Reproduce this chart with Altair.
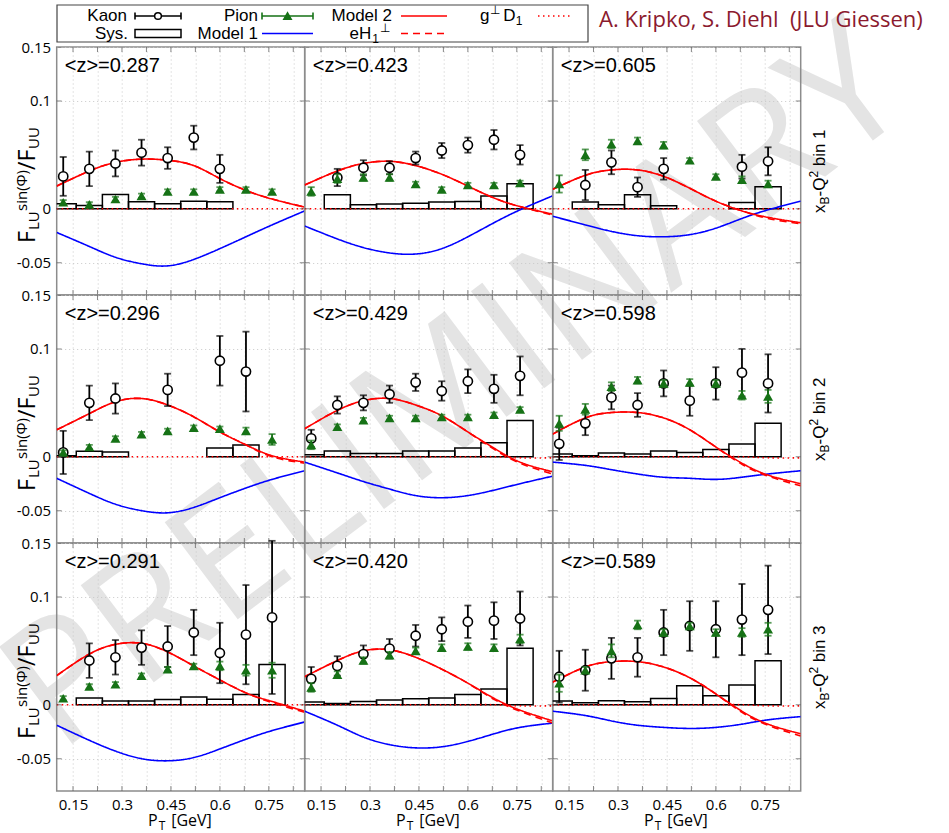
import altair as alt
import pandas as pd

# ------------------------------------------------------------------ data
PT = [0.12, 0.20, 0.28, 0.36, 0.44, 0.52, 0.60, 0.68, 0.76]
BIN_LO = [0.08, 0.16, 0.24, 0.32, 0.40, 0.48, 0.56, 0.64, 0.72]
BIN_HI = [0.16, 0.24, 0.32, 0.40, 0.48, 0.56, 0.64, 0.72, 0.80]
CURVE_PT = [0.10, 0.20, 0.28, 0.36, 0.44, 0.52, 0.60, 0.68, 0.76, 0.86]

Z_MEAN = ["0.287", "0.423", "0.605", "0.296", "0.429", "0.598", "0.291", "0.420", "0.589"]
ROW_BINS = ["1", "2", "3"]

X_TICKS = [0.15, 0.225, 0.3, 0.375, 0.45, 0.525, 0.6, 0.675, 0.75, 0.825]
X_LABELS = [0.15, 0.3, 0.45, 0.6, 0.75]
Y_TICKS = [0.15, 0.1, 0, -0.05]

N = None
KAON = [
    [0.030, 0.037, 0.042, 0.052, 0.047, 0.066, 0.037, N, N],
    [N, 0.029, 0.038, 0.038, 0.047, 0.054, 0.059, 0.064, 0.050],
    [N, 0.022, 0.043, 0.020, 0.037, N, N, 0.039, 0.044],
    [0.004, 0.050, 0.054, N, 0.062, N, 0.089, 0.079, N],
    [0.017, 0.048, 0.050, 0.058, 0.069, 0.061, 0.070, 0.063, 0.075],
    [0.012, 0.031, 0.055, 0.048, 0.068, 0.052, 0.068, 0.078, 0.068],
    [N, 0.041, 0.044, 0.053, 0.054, 0.067, 0.048, 0.065, 0.081],
    [0.024, 0.036, 0.047, 0.052, 0.064, 0.070, 0.077, 0.078, 0.080],
    [0.026, 0.032, 0.043, 0.044, 0.067, 0.073, 0.070, 0.079, 0.088],
]
KAON_ERR = [
    [0.018, 0.016, 0.012, 0.012, 0.010, 0.011, 0.013, N, N],
    [N, 0.008, 0.007, 0.006, 0.006, 0.007, 0.007, 0.009, 0.009],
    [N, 0.014, 0.011, 0.009, 0.010, N, N, 0.011, 0.013],
    [0.020, 0.016, 0.014, N, 0.015, N, 0.023, 0.037, N],
    [0.008, 0.008, 0.007, 0.008, 0.008, 0.009, 0.011, 0.013, 0.018],
    [0.015, 0.011, 0.011, 0.011, 0.012, 0.014, 0.015, 0.022, 0.027],
    [N, 0.016, 0.016, 0.016, 0.019, 0.021, 0.028, 0.046, 0.071],
    [0.011, 0.009, 0.008, 0.009, 0.010, 0.011, 0.015, 0.017, 0.025],
    [0.024, 0.019, 0.019, 0.018, 0.021, 0.023, 0.026, 0.033, 0.041],
]
PION = [
    [0.006, 0.004, 0.009, 0.012, 0.016, 0.016, 0.018, 0.018, 0.016],
    [0.016, 0.028, 0.029, 0.029, 0.023, 0.018, 0.022, 0.022, 0.024],
    [0.023, 0.050, 0.060, 0.063, 0.059, 0.045, 0.030, 0.027, 0.023],
    [0.004, 0.009, 0.017, 0.021, 0.024, 0.027, 0.026, 0.024, 0.016],
    [0.011, 0.028, 0.034, 0.036, 0.036, 0.037, 0.037, 0.039, 0.044],
    [0.031, 0.044, 0.065, 0.071, 0.068, 0.069, 0.068, 0.057, 0.056],
    [0.006, 0.017, 0.019, 0.027, 0.033, 0.036, 0.036, 0.032, 0.032],
    [0.016, 0.028, 0.041, 0.046, 0.050, 0.053, 0.054, 0.053, 0.061],
    [0.020, 0.032, 0.050, 0.074, 0.067, 0.073, 0.067, 0.067, 0.070],
]
PION_ERR = [
    [0.002, 0.002, 0.002, 0.002, 0.002, 0.002, 0.002, 0.002, 0.002],
    [0.004, 0.004, 0.003, 0.003, 0.002, 0.002, 0.002, 0.002, 0.002],
    [0.008, 0.005, 0.004, 0.003, 0.003, 0.002, 0.002, 0.003, 0.003],
    [0.002, 0.002, 0.002, 0.002, 0.002, 0.002, 0.002, 0.003, 0.005],
    [0.004, 0.002, 0.002, 0.002, 0.002, 0.002, 0.002, 0.002, 0.002],
    [0.007, 0.005, 0.004, 0.003, 0.003, 0.003, 0.003, 0.004, 0.006],
    [0.002, 0.002, 0.002, 0.002, 0.002, 0.002, 0.004, 0.005, 0.007],
    [0.004, 0.003, 0.003, 0.003, 0.003, 0.003, 0.003, 0.003, 0.004],
    [0.008, 0.003, 0.006, 0.004, 0.003, 0.003, 0.003, 0.004, 0.006],
]
SYS = [
    [0.0046, 0.0030, 0.0132, 0.0065, 0.0046, 0.0070, 0.0065, N, N],
    [N, 0.0130, 0.0037, 0.0043, 0.0052, 0.0062, 0.0068, 0.0117, 0.0231],
    [N, 0.0062, 0.0037, 0.0130, 0.0028, N, N, 0.0058, 0.0204],
    [0.0010, 0.0050, 0.0043, N, N, N, 0.0081, 0.0109, N],
    [0.0019, 0.0053, 0.0031, 0.0031, 0.0053, 0.0053, 0.0081, 0.0130, 0.0335],
    [0.0025, 0.0009, 0.0034, 0.0025, 0.0053, 0.0040, 0.0068, 0.0118, 0.0310],
    [N, 0.0062, 0.0034, 0.0034, 0.0049, 0.0071, 0.0052, 0.0096, 0.0373],
    [0.0025, 0.0012, 0.0031, 0.0043, 0.0056, 0.0062, 0.0096, 0.0145, 0.0525],
    [0.0034, 0.0019, 0.0037, 0.0028, 0.0059, 0.0176, 0.0083, 0.0182, 0.0407],
]
MODEL1 = [
    [-0.022, -0.035, -0.045, -0.051, -0.053, -0.047, -0.037, -0.026, -0.015, -0.002],
    [-0.016, -0.028, -0.036, -0.041, -0.042, -0.037, -0.026, -0.013, -0.001, 0.012],
    [-0.007, -0.015, -0.021, -0.025, -0.026, -0.024, -0.018, -0.009, -0.001, 0.007],
    [-0.020, -0.034, -0.044, -0.050, -0.052, -0.047, -0.038, -0.029, -0.021, -0.013],
    [-0.005, -0.015, -0.023, -0.030, -0.036, -0.038, -0.036, -0.031, -0.025, -0.018],
    [-0.005, -0.008, -0.012, -0.016, -0.019, -0.020, -0.021, -0.019, -0.016, -0.013],
    [-0.019, -0.033, -0.043, -0.050, -0.052, -0.049, -0.041, -0.032, -0.024, -0.016],
    [-0.006, -0.019, -0.030, -0.037, -0.040, -0.039, -0.034, -0.027, -0.021, -0.017],
    [-0.006, -0.010, -0.015, -0.019, -0.021, -0.022, -0.021, -0.018, -0.014, -0.011],
]
MODEL2 = [
    [0.021, 0.035, 0.043, 0.046, 0.045, 0.040, 0.028, 0.017, 0.009, 0.0015],
    [0.022, 0.035, 0.042, 0.044, 0.040, 0.032, 0.021, 0.010, 0.002, -0.005],
    [0.018, 0.031, 0.036, 0.036, 0.030, 0.019, 0.007, -0.002, -0.008, -0.013],
    [0.025, 0.040, 0.051, 0.054, 0.048, 0.037, 0.023, 0.011, 0.001, -0.005],
    [0.026, 0.043, 0.052, 0.054, 0.048, 0.038, 0.023, 0.008, -0.005, -0.014],
    [0.021, 0.036, 0.041, 0.041, 0.036, 0.025, 0.009, -0.006, -0.017, -0.025],
    [0.027, 0.047, 0.056, 0.057, 0.049, 0.036, 0.023, 0.011, 0.003, -0.006],
    [0.026, 0.041, 0.050, 0.051, 0.044, 0.033, 0.020, 0.006, -0.005, -0.015],
    [0.021, 0.035, 0.040, 0.040, 0.035, 0.025, 0.010, -0.006, -0.018, -0.027],
]
EH1 = [
    [0.021, 0.035, 0.043, 0.046, 0.045, 0.040, 0.028, 0.017, 0.009, 0.0015],
    [0.022, 0.035, 0.042, 0.044, 0.040, 0.032, 0.021, 0.010, 0.002, -0.006],
    [0.018, 0.031, 0.036, 0.036, 0.030, 0.019, 0.007, -0.002, -0.009, -0.014],
    [0.025, 0.040, 0.051, 0.054, 0.048, 0.037, 0.023, 0.011, 0.000, -0.006],
    [0.026, 0.043, 0.052, 0.054, 0.048, 0.038, 0.023, 0.007, -0.006, -0.016],
    [0.021, 0.036, 0.041, 0.041, 0.036, 0.025, 0.009, -0.007, -0.018, -0.027],
    [0.027, 0.047, 0.056, 0.057, 0.049, 0.036, 0.023, 0.011, 0.002, -0.007],
    [0.026, 0.041, 0.050, 0.051, 0.044, 0.033, 0.020, 0.005, -0.006, -0.017],
    [0.021, 0.035, 0.040, 0.040, 0.035, 0.025, 0.010, -0.007, -0.019, -0.029],
]
GD1 = [
    [0.0, 0.0, 0.0, 0.0, 0.0, 0.0, 0.0, 0.0, 0.0, 0.0],
    [0.0, 0.0, 0.0, 0.0, 0.0, 0.0, 0.0, 0.0, 0.0, 0.0],
    [0.0, 0.0, 0.0, 0.0, 0.0, 0.0, 0.0, 0.0, 0.0, 0.0],
    [0.0, 0.0, 0.0, 0.0, 0.0, 0.0, 0.0, 0.0, 0.0, 0.0],
    [0.0, 0.0, 0.0, 0.0, 0.0, 0.0, 0.0, 0.0, -0.001, -0.001],
    [0.0, 0.0, 0.0, 0.0, 0.0, 0.0, 0.0, 0.0, -0.001, -0.001],
    [0.0, 0.0, 0.0, 0.0, 0.0, 0.0, 0.0, 0.0, 0.0, 0.0],
    [0.0, 0.0, 0.0, 0.0, 0.0, 0.0, 0.0, 0.0, -0.001, -0.001],
    [0.0, 0.0, 0.0, 0.0, 0.0, 0.0, 0.0, 0.0, -0.001, -0.001],
]

# ------------------------------------------------------------------ style
SANS = "Liberation Sans"
OPEN = "Open Sans"
RED, BLUE, GREEN = "#ff0000", "#0000ff", "#167216"
W = H = 248
OX, OY = 56.7, 47.0          # page position of the first panel's top-left corner
PAGE_W, PAGE_H = 949, 833
XS = alt.Scale(domain=[0.1, 0.86], nice=False, zero=False)
YS = alt.Scale(domain=[-0.08, 0.15], nice=False, zero=False)
ONE = pd.DataFrame({"k": [0]})

LABEL_X = ("indexof([" + ",".join(str(v) for v in X_LABELS) +
           "], datum.value) >= 0 ? format(datum.value, '~g') : ''")
LABEL_Y = "datum.value < 0 ? '-' + format(-datum.value, '~g') : format(datum.value, '~g')"


def txt(s, x, y, size, font=SANS, color="black", align="left", baseline="middle",
        angle=0, weight="normal"):
    return alt.Chart(ONE).mark_text(
        text=s, fontSize=size, font=font, color=color, align=align,
        baseline=baseline, angle=angle, fontWeight=weight
    ).encode(x=alt.value(x), y=alt.value(y))


def seg(x1, y1, x2, y2, color, width=1.6, dash=(1, 0)):
    return alt.Chart(ONE).mark_rule(color=color, strokeWidth=width, strokeDash=list(dash)).encode(
        x=alt.value(x1), y=alt.value(y1), x2=alt.value(x2), y2=alt.value(y2))


def dot(x, y, shape, fill, stroke, size):
    return alt.Chart(ONE).mark_point(shape=shape, filled=True, fill=fill, stroke=stroke,
                                     strokeWidth=1.5, size=size, opacity=1).encode(
        x=alt.value(x), y=alt.value(y))


def watermark():
    return [txt("PRELIMINARY", 457 - OX, 390 - OY, 170, font=OPEN, color="#e4e4e4",
                align="center", angle=323)]


def legend():
    L = []
    L.append(alt.Chart(ONE).mark_rect(fill="white", stroke="#444444", strokeWidth=1.2).encode(
        x=alt.value(0.3), x2=alt.value(531.3), y=alt.value(-42), y2=alt.value(-5)))
    r1, r2 = -31, -13.5
    # Kaon
    L.append(txt("Kaon", 70.3, r1, 17, align="right"))
    L.append(seg(78.3, r1, 124.3, r1, "black"))
    L.append(seg(78.3, r1 - 3.5, 78.3, r1 + 3.5, "black"))
    L.append(seg(124.3, r1 - 3.5, 124.3, r1 + 3.5, "black"))
    L.append(dot(101.3, r1, "circle", "white", "black", 45))
    # Sys.
    L.append(txt("Sys.", 71.3, r2, 17, align="right"))
    L.append(alt.Chart(ONE).mark_rect(fillOpacity=0, stroke="black", strokeWidth=1.5).encode(
        x=alt.value(78.3), x2=alt.value(124.3), y=alt.value(r2 - 4), y2=alt.value(r2 + 4)))
    # Pion
    L.append(txt("Pion", 201.3, r1, 17, align="right"))
    L.append(seg(205.3, r1, 256.3, r1, GREEN))
    L.append(seg(205.3, r1 - 3.5, 205.3, r1 + 3.5, GREEN))
    L.append(seg(256.3, r1 - 3.5, 256.3, r1 + 3.5, GREEN))
    L.append(dot(230.8, r1, "triangle-up", GREEN, GREEN, 55))
    # Model 1
    L.append(txt("Model 1", 201.3, r2, 17, align="right"))
    L.append(seg(205.3, r2, 256.3, r2, BLUE))
    # Model 2
    L.append(txt("Model 2", 335.3, r1, 17, align="right"))
    L.append(seg(344.3, r1, 390.3, r1, RED))
    # eH1 perp
    L.append(txt("eH", 314.5, r2, 17, align="right"))
    L.append(txt("1", 315.5, r2 + 5, 12))
    L.append(txt("\u22a5", 323.5, r2 - 6, 12))
    L.append(seg(344.3, r2, 390.3, r2, RED, dash=(7, 5)))
    # g perp D1
    L.append(txt("g", 423.3, r1, 17))
    L.append(txt("\u22a5", 433.5, r1 - 6, 12))
    L.append(txt("D", 446.5, r1, 17))
    L.append(txt("1", 459.0, r1 + 5, 12))
    L.append(seg(481.3, r1, 514.3, r1, RED, dash=(1.5, 3.5)))
    # authors
    L.append(txt("A. Kripko, S. Diehl \u00a0(JLU Giessen)", 542.3, -27, 22, font=OPEN,
                 color="#8b1a2e"))
    return L


def y_title():
    return [
        txt("F", -21.7, 196, 23, font=OPEN, baseline="alphabetic", angle=270),
        txt("LU", -18.0, 183, 15, font=OPEN, baseline="alphabetic", angle=270),
        txt("sin(\u03a6)", -29.7, 164, 15, font=OPEN, baseline="alphabetic", angle=270),
        txt("/F", -21.7, 123, 23, font=OPEN, baseline="alphabetic", angle=270),
        txt("UU", -18.0, 102, 15, font=OPEN, baseline="alphabetic", angle=270),
    ]


def x_title():
    return [
        txt("P", 91.3, H + 35, 16, font=OPEN, baseline="alphabetic"),
        txt("T", 102.0, H + 39, 12, font=OPEN, baseline="alphabetic"),
        txt("[GeV]", 114.5, H + 35, 16, font=OPEN, baseline="alphabetic"),
    ]


def row_label(r):
    b = W + 24
    return [
        txt("x", b, 166, 17, baseline="alphabetic", angle=270),
        txt("B", b + 4, 157.5, 12, baseline="alphabetic", angle=270),
        txt("-Q", b, 149.5, 17, baseline="alphabetic", angle=270),
        txt("2", b - 7, 130.6, 12, baseline="alphabetic", angle=270),
        txt("bin " + ROW_BINS[r], b, 119.3, 17, baseline="alphabetic", angle=270),
    ]


def panel(i):
    r, c = divmod(i, 3)
    XA = alt.Axis(values=X_TICKS, format="~g", labelExpr=LABEL_X, labels=(r == 2), ticks=False,
                  domain=False, grid=True, gridColor="#c8c8c8", gridDash=[1, 3], gridWidth=1,
                  title=None, labelFont=OPEN, labelFontSize=15, labelColor="black",
                  labelPadding=6, labelFlush=False)
    YA = alt.Axis(values=Y_TICKS, labelExpr=LABEL_Y, labels=(c == 0), ticks=False, domain=False,
                  grid=True, gridColor="#c8c8c8", gridDash=[1, 3], gridWidth=1, title=None,
                  labelFont=OPEN, labelFontSize=15, labelColor="black", labelPadding=6)

    def X(f):
        return alt.X(f, type="quantitative", scale=XS, axis=XA)

    def Y(f):
        return alt.Y(f, type="quantitative", scale=YS, axis=YA)

    pts = pd.DataFrame({"pt": PT, "k": KAON[i], "ke": KAON_ERR[i], "p": PION[i],
                        "pe": PION_ERR[i], "s": SYS[i], "lo": BIN_LO, "hi": BIN_HI}).astype(float)
    pts["klo"] = pts["k"] - pts["ke"]
    pts["khi"] = pts["k"] + pts["ke"]
    pts["plo"] = pts["p"] - pts["pe"]
    pts["phi"] = pts["p"] + pts["pe"]
    kd = pts.dropna(subset=["k"])[["pt", "k", "klo", "khi"]]
    pd_ = pts.dropna(subset=["p"])[["pt", "p", "plo", "phi"]]
    sd = pts.dropna(subset=["s"])[["lo", "hi", "s"]]
    cur = pd.DataFrame({"pt": CURVE_PT, "m1": MODEL1[i], "m2": MODEL2[i], "eh": EH1[i],
                        "gd": GD1[i]})
    xt = pd.DataFrame({"v": X_TICKS})
    yt = pd.DataFrame({"v": Y_TICKS})

    layers = []
    if i == 0:
        layers += watermark()

    layers.append(alt.Chart(sd).mark_rect(fillOpacity=0, stroke="black", strokeWidth=1.5,
                                          clip=True).encode(
        x=X("lo"), x2="hi", y=Y("s"), y2=alt.datum(0)))

    def curve(field, color, dash=(1, 0), width=1.6):
        return alt.Chart(cur).mark_line(color=color, strokeWidth=width, strokeDash=list(dash),
                                        interpolate="natural", clip=True).encode(
            x=X("pt"), y=Y(field))

    layers.append(curve("gd", RED, dash=(1.5, 3.5)))
    layers.append(curve("m1", BLUE))
    layers.append(curve("eh", RED, dash=(7, 5)))
    layers.append(curve("m2", RED))

    # kaons
    layers.append(alt.Chart(kd).mark_rule(color="black", strokeWidth=1.8).encode(
        x=X("pt"), y=Y("klo"), y2="khi"))
    for f in ("klo", "khi"):
        layers.append(alt.Chart(kd).mark_tick(orient="horizontal", color="black", size=7,
                                              thickness=1.8).encode(x=X("pt"), y=Y(f)))
    layers.append(alt.Chart(kd).mark_point(shape="circle", filled=True, fill="white",
                                           stroke="black", strokeWidth=1.6, size=85,
                                           opacity=1).encode(x=X("pt"), y=Y("k")))
    # pions
    layers.append(alt.Chart(pd_).mark_rule(color=GREEN, strokeWidth=1.8).encode(
        x=X("pt"), y=Y("plo"), y2="phi"))
    for f in ("plo", "phi"):
        layers.append(alt.Chart(pd_).mark_tick(orient="horizontal", color=GREEN, size=7,
                                               thickness=1.8).encode(x=X("pt"), y=Y(f)))
    layers.append(alt.Chart(pd_).mark_point(shape="triangle-up", filled=True, color=GREEN,
                                            size=100, opacity=1).encode(x=X("pt"), y=Y("p")))

    # inward ticks on all four sides
    for yv in (0, H):
        layers.append(alt.Chart(xt).mark_tick(orient="vertical", size=10, thickness=1,
                                              color="#555555", clip=True).encode(
            x=X("v"), y=alt.value(yv)))
    for xv in (0, W):
        layers.append(alt.Chart(yt).mark_tick(orient="horizontal", size=10, thickness=1,
                                              color="#555555", clip=True).encode(
            y=Y("v"), x=alt.value(xv)))

    layers.append(txt("<z>=" + Z_MEAN[i], 8, 25, 20, baseline="alphabetic"))

    if c == 0:
        layers += y_title()
    if r == 2:
        layers += x_title()
    if c == 2:
        layers += row_label(r)
    if i == 0:
        layers += legend()

    return alt.layer(*layers).properties(width=W, height=H)


panels = [panel(i) for i in range(9)]
chart = (
    alt.concat(*panels, columns=3, spacing=0, bounds="flush")
    .properties(
        autosize=alt.AutoSizeParams(type="none"),
        padding={"left": OX, "top": OY, "right": PAGE_W - OX, "bottom": PAGE_H - OY},
        background="white",
    )
    .configure_view(stroke="#8c8c8c", strokeWidth=1.5)
)
chart.save("out.html", embed_options={"renderer": "svg", "actions": False})
